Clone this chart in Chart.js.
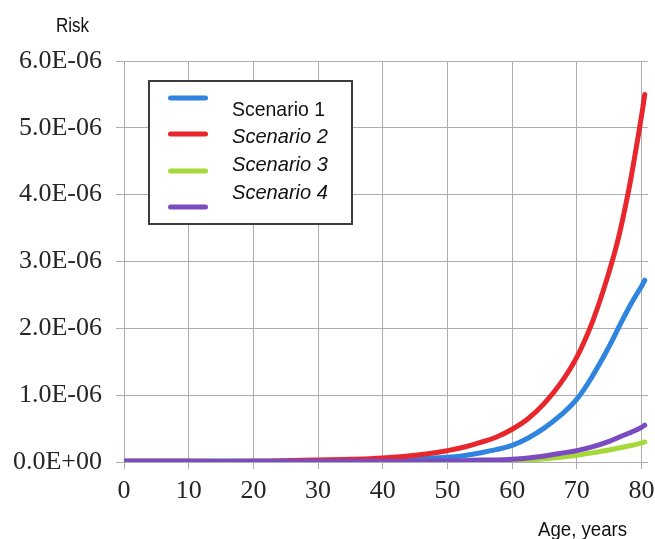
<!DOCTYPE html>
<html>
<head>
<meta charset="utf-8">
<script src="https://cdn.jsdelivr.net/npm/chart.js@4/dist/chart.umd.min.js"></script>
<style>
  html, body { margin: 0; padding: 0; background: #ffffff; }
  #wrap { width: 655px; height: 539px; }
</style>
</head>
<body>
<div id="wrap"><canvas id="c" width="655" height="539"></canvas></div>
<script>
// ---- data (risk values in units of 1E-06) ----
const ages = [0, 10, 20, 25, 30, 35, 40, 45, 50, 52.5, 55, 57.5, 60, 62.5, 65, 67.5, 70, 72.5, 75, 76.5, 78, 79, 80, 80.5];
const scenario1 = [0.01, 0.01, 0.01, 0.01, 0.01, 0.02, 0.03, 0.05, 0.07, 0.095, 0.135, 0.185, 0.25, 0.36, 0.51, 0.70, 0.94, 1.30, 1.73, 2.02, 2.30, 2.47, 2.63, 2.72];
const scenario2 = [0.01, 0.01, 0.01, 0.02, 0.03, 0.04, 0.06, 0.10, 0.17, 0.22, 0.29, 0.37, 0.49, 0.65, 0.88, 1.18, 1.57, 2.12, 2.85, 3.38, 4.06, 4.60, 5.18, 5.50];
const scenario3 = [0.01, 0.01, 0.01, 0.01, 0.01, 0.01, 0.01, 0.01, 0.01, 0.01, 0.01, 0.01, 0.015, 0.03, 0.05, 0.07, 0.10, 0.14, 0.18, 0.21, 0.24, 0.26, 0.285, 0.30];
const scenario4 = [0.01, 0.01, 0.01, 0.01, 0.01, 0.01, 0.01, 0.01, 0.02, 0.02, 0.03, 0.03, 0.04, 0.06, 0.09, 0.13, 0.17, 0.23, 0.31, 0.37, 0.43, 0.47, 0.52, 0.55];

const seriesNames = ['Scenario 1', 'Scenario 2', 'Scenario 3', 'Scenario 4'];
const seriesItalic = [false, true, true, true];
const seriesColors = ['#2f84e0', '#e8262b', '#a6d83a', '#7b4bc0'];
const seriesDrawOrder = [2, 1, 3, 0];

const xTickValues = [0, 10, 20, 30, 40, 50, 60, 70, 80];
const yTickLabels = ['0.0E+00', '1.0E-06', '2.0E-06', '3.0E-06', '4.0E-06', '5.0E-06', '6.0E-06'];
const yTitle = 'Risk';
const xTitle = 'Age, years';

// ---- build datasets ----
const seriesValues = [scenario1, scenario2, scenario3, scenario4];
const datasets = seriesValues.map((vals, i) => ({
  label: seriesNames[i],
  data: ages.map((a, k) => ({ x: a, y: vals[k] })),
  borderColor: seriesColors[i],
  backgroundColor: seriesColors[i],
  borderWidth: 5,
  borderCapStyle: 'round',
  borderJoinStyle: 'round',
  pointRadius: 0,
  tension: 0.4,
  fill: false,
  order: seriesDrawOrder[i]
}));

function drawFit(ctx, text, x, baseline, font, targetWidth) {
  ctx.save();
  ctx.font = font;
  const w = ctx.measureText(text).width;
  const sx = targetWidth / w;
  ctx.translate(x, baseline);
  ctx.scale(sx, 1);
  ctx.textAlign = 'left';
  ctx.textBaseline = 'alphabetic';
  ctx.fillText(text, 0, 0);
  ctx.restore();
}

const overlay = {
  id: 'overlay',
  afterDraw(chart) {
    const ctx = chart.ctx;
    ctx.save();
    ctx.fillStyle = '#111111';
    drawFit(ctx, yTitle, 56, 32, '20px "Liberation Sans"', 33);
    drawFit(ctx, xTitle, 538, 536, '20px "Liberation Sans"', 89);

    // legend box
    const bx = 149, by = 81, bw = 203, bh = 143;
    ctx.fillStyle = '#ffffff';
    ctx.fillRect(bx, by, bw, bh);
    ctx.strokeStyle = '#3c3c3c';
    ctx.lineWidth = 2;
    ctx.strokeRect(bx, by, bw, bh);

    const lineYs = [98, 134, 171, 207];
    const textBaselines = [116, 143, 171, 199];
    const textWidths = [93, 96, 96, 96];
    chart.data.datasets.forEach((ds, i) => {
      ctx.beginPath();
      ctx.strokeStyle = ds.borderColor;
      ctx.lineWidth = 5;
      ctx.lineCap = 'round';
      ctx.moveTo(170.5, lineYs[i]);
      ctx.lineTo(205.5, lineYs[i]);
      ctx.stroke();
      ctx.fillStyle = '#111111';
      const font = (seriesItalic[i] ? 'italic ' : '') + '21px "Liberation Sans"';
      drawFit(ctx, ds.label, 232, textBaselines[i], font, textWidths[i]);
    });
    ctx.restore();
  }
};

new Chart(document.getElementById('c'), {
  type: 'line',
  data: { datasets: datasets },
  plugins: [overlay],
  options: {
    responsive: false,
    animation: false,
    devicePixelRatio: 1,
    layout: { padding: { left: 0, right: 7, top: 61, bottom: 0 } },
    plugins: { legend: { display: false }, tooltip: { enabled: false } },
    scales: {
      x: {
        type: 'linear',
        min: 0,
        max: 81,
        afterBuildTicks: s => { s.ticks = xTickValues.map(v => ({ value: v })); },
        afterFit: s => { s.height = 77; s.paddingLeft = 0; s.paddingRight = 0; },
        ticks: {
          autoSkip: false,
          maxRotation: 0,
          padding: 7,
          color: '#262626',
          font: { family: '"Liberation Serif"', size: 26 },
          callback: v => String(v)
        },
        grid: { color: '#adadad', tickLength: 7, lineWidth: 1 },
        border: { display: false }
      },
      y: {
        type: 'linear',
        min: 0,
        max: 6,
        afterBuildTicks: s => { s.ticks = yTickLabels.map((_, i) => ({ value: i })); },
        afterFit: s => { s.width = 124; },
        ticks: {
          padding: 14,
          color: '#262626',
          font: { family: '"Liberation Serif"', size: 26 },
          callback: (v, i) => yTickLabels[i]
        },
        grid: { color: '#adadad', tickLength: 8, lineWidth: 1 },
        border: { display: false }
      }
    }
  }
});
</script>
</body>
</html>
